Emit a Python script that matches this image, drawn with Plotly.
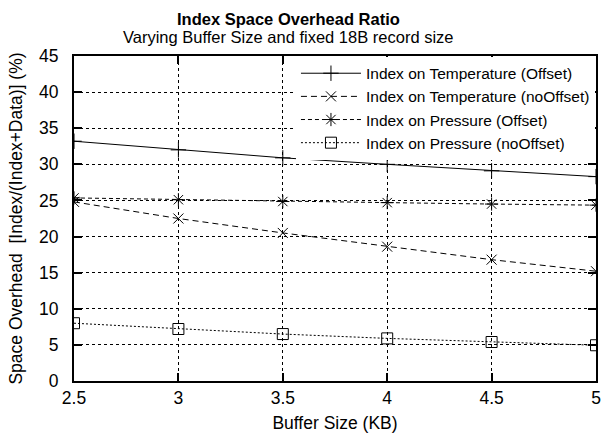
import plotly.graph_objects as go

buffer_kb = [2.5, 3.0, 3.5, 4.0, 4.5, 5.0]
temp_offset = [33.2, 32.0, 30.9, 30.0, 29.1, 28.3]
temp_nooffset = [24.8, 22.5, 20.5, 18.6, 16.8, 15.2]
pres_offset = [25.35, 25.1, 24.85, 24.7, 24.5, 24.35]
pres_nooffset = [8.0, 7.2, 6.5, 5.9, 5.4, 4.95]

series_names = [
    "Index on Temperature (Offset)",
    "Index on Temperature (noOffset)",
    "Index on Pressure (Offset)",
    "Index on Pressure (noOffset)",
]
x_ticks = [2.5, 3, 3.5, 4, 4.5, 5]
x_tick_labels = ["2.5", "3", "3.5", "4", "4.5", "5"]
y_ticks = [0, 5, 10, 15, 20, 25, 30, 35, 40, 45]

FONT = "Liberation Sans, Arial, sans-serif"

styles = [
    dict(dash="solid", symbol="cross-thin-open", size=11),
    dict(dash="6px,4px", symbol="x-thin-open", size=10),
    dict(dash="4px,3px", symbol="asterisk-open", size=11),
    dict(dash="2px,2px", symbol="square-open", size=11),
]

fig = go.Figure()
for name, vals, st in zip(series_names, [temp_offset, temp_nooffset, pres_offset, pres_nooffset], styles):
    fig.add_trace(go.Scatter(
        x=buffer_kb, y=vals, name=name, mode="lines+markers",
        line=dict(color="black", width=1, dash=st["dash"]),
        marker=dict(symbol=st["symbol"], size=st["size"], color="black",
                    line=dict(color="black", width=1)),
    ))

axis_common = dict(
    showline=True, linecolor="black", linewidth=2, mirror="allticks",
    ticks="inside", ticklen=8, tickwidth=2, tickcolor="black",
    showgrid=True, gridcolor="black", gridwidth=1, griddash="3px,3px",
    zeroline=False, tickfont=dict(family=FONT, size=17.5, color="black"),
)

fig.update_xaxes(range=[2.5, 5], tickvals=x_ticks, ticktext=x_tick_labels,
                 title=dict(text="Buffer Size (KB)", font=dict(family=FONT, size=17.5, color="black"), standoff=10),
                 **axis_common)
fig.update_yaxes(range=[0, 45], tickvals=y_ticks, ticklabelstandoff=10,
                 title=dict(text="Space Overhead  [Index/(Index+Data)] (%)", font=dict(family=FONT, size=17.5, color="black"), standoff=12),
                 **axis_common)

fig.add_annotation(text="<b>Index Space Overhead Ratio</b>", xref="paper", yref="paper",
                   x=0.41, y=1.148, showarrow=False,
                   font=dict(family=FONT, size=16.5, color="black"))
fig.add_annotation(text="Varying Buffer Size and fixed 18B record size", xref="paper", yref="paper",
                   x=0.41, y=1.093, showarrow=False,
                   font=dict(family=FONT, size=16.5, color="black"))

fig.update_layout(
    width=607, height=440,
    margin=dict(l=74, r=6, t=56, b=59),
    paper_bgcolor="white", plot_bgcolor="white",
    font=dict(family=FONT, size=17.5, color="black"),
    showlegend=True,
    legend=dict(x=0.998, y=0.998, xanchor="right", yanchor="top",
                bgcolor="white", borderwidth=0,
                font=dict(family=FONT, size=15.5, color="black"),
                tracegroupgap=0, itemwidth=60),
)

fig.write_html("out.html")
